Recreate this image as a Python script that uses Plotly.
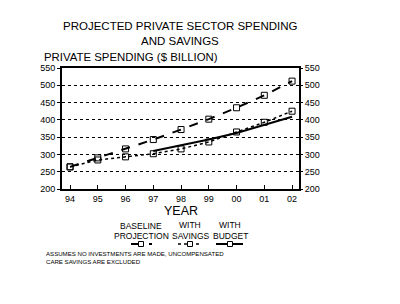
import plotly.graph_objects as go

years = ["94", "95", "96", "97", "98", "99", "00", "01", "02"]
baseline = [264, 290, 316, 343, 372, 402, 435, 471, 512]
with_savings = [264, 284, 293, 302, 316, 336, 365, 393, 425]
budget_years = ["97", "98", "99", "00", "01", "02"]
with_budget = [310, 326, 343, 362, 386, 409]
y_ticks = [200, 250, 300, 350, 400, 450, 500, 550]

W, H = 400, 304
L, R, T, B = 62, 299, 68, 189
FONT = "Liberation Sans, Arial, sans-serif"

def px(x, y):
    return (x - L) / (R - L), (B - y) / (B - T)

xi = {y: i for i, y in enumerate(years)}

fig = go.Figure()
mk = dict(symbol="square-open", size=6, color="black", line=dict(width=1))
fig.add_trace(go.Scatter(x=[xi[y] for y in years], y=baseline, mode="lines+markers",
                         line=dict(color="black", width=2, dash="dash"), marker=mk))
fig.add_trace(go.Scatter(x=[xi[y] for y in years], y=with_savings, mode="lines+markers",
                         line=dict(color="black", width=1.5, dash="dot"), marker=mk))
fig.add_trace(go.Scatter(x=[xi[y] for y in budget_years], y=with_budget, mode="lines",
                         line=dict(color="black", width=2)))
fig.add_trace(go.Scatter(x=[0], y=[200], yaxis="y2", mode="markers",
                         marker=dict(opacity=0), hoverinfo="skip"))

axis_common = dict(range=[200, 550], tickvals=y_ticks, ticks="outside", ticklen=3,
                   tickcolor="black", tickfont=dict(family=FONT, size=9, color="black"))

fig.update_layout(
    width=W, height=H, showlegend=False,
    paper_bgcolor="white", plot_bgcolor="white",
    margin=dict(l=L, r=W - R, t=T, b=H - B),
    xaxis=dict(range=[-0.29, 8.25], tickvals=list(range(len(years))), ticktext=years,
               ticks="inside", ticklen=4, tickcolor="black", showgrid=False,
               showline=True, linecolor="black", linewidth=2, mirror=True, zeroline=False,
               tickfont=dict(family=FONT, size=9, color="black")),
    yaxis=dict(**axis_common, showgrid=True, gridcolor="black", griddash="dot", gridwidth=1,
               showline=True, linecolor="black", linewidth=2, mirror=True, zeroline=False),
    yaxis2=dict(**axis_common, overlaying="y", side="right", showgrid=False,
                showline=False, zeroline=False),
)

def ann(text, x, y, size, xanchor="center", bold=False):
    xp, yp = px(x, y)
    fig.add_annotation(text=f"<b>{text}</b>" if bold else text, x=xp, y=yp,
                       xref="paper", yref="paper", xanchor=xanchor, yanchor="middle",
                       showarrow=False, font=dict(family=FONT, size=size, color="black"))

ann("PROJECTED PRIVATE SECTOR SPENDING", 180, 26, 11.5)
ann("AND SAVINGS", 180, 41, 11.5)
ann("PRIVATE SPENDING ($ BILLION)", 42, 57, 11.4, xanchor="left")
ann("YEAR", 181, 211, 12.5)
ann("BASELINE", 141, 226, 8.5)
ann("PROJECTION", 141, 236, 8.5)
ann("WITH", 190, 225, 8.5)
ann("SAVINGS", 190, 236, 8.5)
ann("WITH", 230, 225, 8.5)
ann("BUDGET", 230, 236, 8.5)
ann("ASSUMES NO INVESTMENTS ARE MADE, UNCOMPENSATED", 44, 253, 6.1, xanchor="left")
ann("CARE SAVINGS ARE EXCLUDED", 44, 261, 6.1, xanchor="left")

def seg(x0, x1, y, dash, width):
    a0, b0 = px(x0, y)
    a1, _ = px(x1, y)
    fig.add_shape(type="line", xref="paper", yref="paper", x0=a0, x1=a1, y0=b0, y1=b0,
                  line=dict(color="black", width=width, dash=dash))

def box(x, y):
    a0, b0 = px(x - 2.5, y - 2.5)
    a1, b1 = px(x + 2.5, y + 2.5)
    fig.add_shape(type="rect", xref="paper", yref="paper", x0=a0, x1=a1, y0=b0, y1=b1,
                  line=dict(color="black", width=1), fillcolor="white")

seg(131, 152, 244, "dash", 2)
box(141, 244)
seg(178, 202, 244, "dot", 1.5)
box(190, 244)
seg(216, 243, 244, "solid", 2)
box(230, 244)

fig.write_html("out.html")
